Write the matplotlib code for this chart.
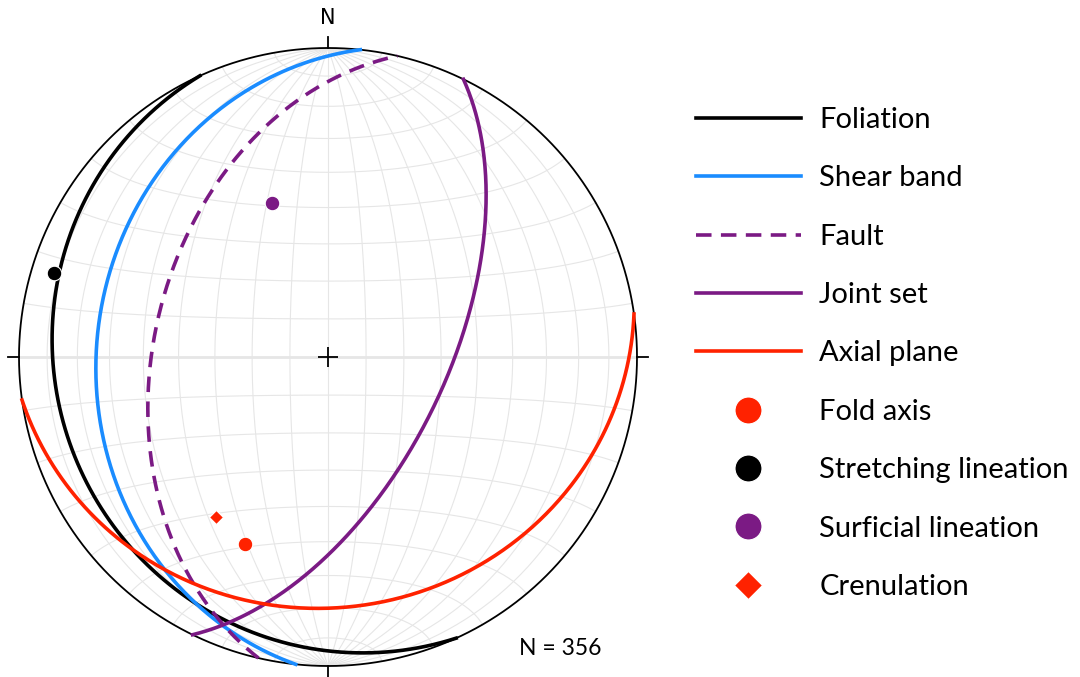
import numpy as np
import matplotlib.pyplot as plt

plt.rcParams['font.family'] = ['Lato', 'DejaVu Sans']

# planes, right-hand-rule strike / dip (degrees)
plane_names = ['Foliation', 'Shear band', 'Fault', 'Joint set', 'Axial plane']
plane_strikes = [155.5, 186, 193, 26, 82]
plane_dips = [13, 26, 43, 59, 20]
plane_colors = ['black', '#1a8cff', '#7b1a84', '#7b1a84', '#ff2200']
plane_styles = ['-', '-', (0, (4.3, 2.6)), '-', '-']

# lineations, trend / plunge (degrees)
line_names = ['Fold axis', 'Stretching lineation', 'Surficial lineation', 'Crenulation']
line_trends = [204, 287, 340, 215]
line_plunges = [34, 8, 46, 37]
line_colors = ['#ff2200', 'black', '#7b1a84', '#ff2200']
line_markers = ['o', 'o', 'o', 'D']

n_total = 356


def project(e, n, d):
    # lower hemisphere Lambert equal-area (Schmidt net), unit primitive
    k = 1.0 / np.sqrt(1.0 + d)
    return e * k, n * k


def great_circle(strike, dip, num=361):
    s = np.radians(strike)
    dp = np.radians(dip)
    dd = s + np.pi / 2
    t = np.linspace(0, np.pi, num)
    e = np.cos(t) * np.sin(s) + np.sin(t) * np.sin(dd) * np.cos(dp)
    n = np.cos(t) * np.cos(s) + np.sin(t) * np.cos(dd) * np.cos(dp)
    d = np.sin(t) * np.sin(dp)
    return project(e, n, d)


def line_point(trend, plunge):
    tr, pl = np.radians(trend), np.radians(plunge)
    return project(np.sin(tr) * np.cos(pl), np.cos(tr) * np.cos(pl), np.sin(pl))


fig = plt.figure(figsize=(10.8, 6.77), dpi=100)
ax = fig.add_axes([0, 0, 1, 1])
# net centre at (328, 357) px, radius 309 px
R = 309.0
ax.set_xlim(-328 / R, (1080 - 328) / R)
ax.set_ylim((357 - 677) / R, 357 / R)
ax.axis('off')

# grid: meridians through N/S and small circles about the N-S axis
t = np.linspace(0, np.pi, 181)
grid_c = '#e6e6e6'
for lon in range(-80, 81, 10):
    lam = np.radians(lon)
    gx, gy = project(np.sin(t) * np.sin(lam), np.cos(t), np.sin(t) * np.cos(lam))
    ax.plot(gx, gy, color=grid_c, lw=0.8, zorder=1)
for lat in range(-80, 81, 10):
    phi = np.radians(lat)
    gx, gy = project(np.cos(phi) * np.cos(t), np.sin(phi) * np.ones_like(t), np.cos(phi) * np.sin(t))
    ax.plot(gx, gy, color=grid_c, lw=2.0 if lat == 0 else 0.8, zorder=1)

# primitive circle and cardinal ticks
a = np.linspace(0, 2 * np.pi, 721)
ax.plot(np.cos(a), np.sin(a), color='black', lw=1.3, zorder=2)
for az in (0, 90, 180, 270):
    r = np.radians(az)
    ax.plot([np.sin(r), 1.035 * np.sin(r)], [np.cos(r), 1.035 * np.cos(r)], color='black', lw=1.3, zorder=2)
ax.text(0, 1.098, 'N', ha='center', va='center', fontsize=15, family='DejaVu Sans')

for name, s, dp, c, ls in zip(plane_names, plane_strikes, plane_dips, plane_colors, plane_styles):
    x, y = great_circle(s, dp)
    ax.plot(x, y, color=c, lw=2.6, ls=ls, label=name, zorder=3)

for name, tr, pl, c, m in zip(line_names, line_trends, line_plunges, line_colors, line_markers):
    x, y = line_point(tr, pl)
    ms = 7.5 if m == 'D' else 10.5
    ax.plot([x], [y], ls='none', marker=m, ms=ms, color=c, mec='white', mew=0.8, label=name, zorder=4)

ax.plot([0], [0], marker='+', ms=15, mew=1.3, color='black', zorder=5)

ax.text(0.752, -0.942, 'N = %d' % n_total, ha='center', va='center', fontsize=16.5)

ax.legend(loc='upper left', bbox_to_anchor=(0.644, 0.842), frameon=False, fontsize=21,
          handlelength=3.6, handletextpad=0.65, labelspacing=1.11, borderpad=0, borderaxespad=0,
          markerscale=1.85)

fig.savefig('out.png', dpi=100)
